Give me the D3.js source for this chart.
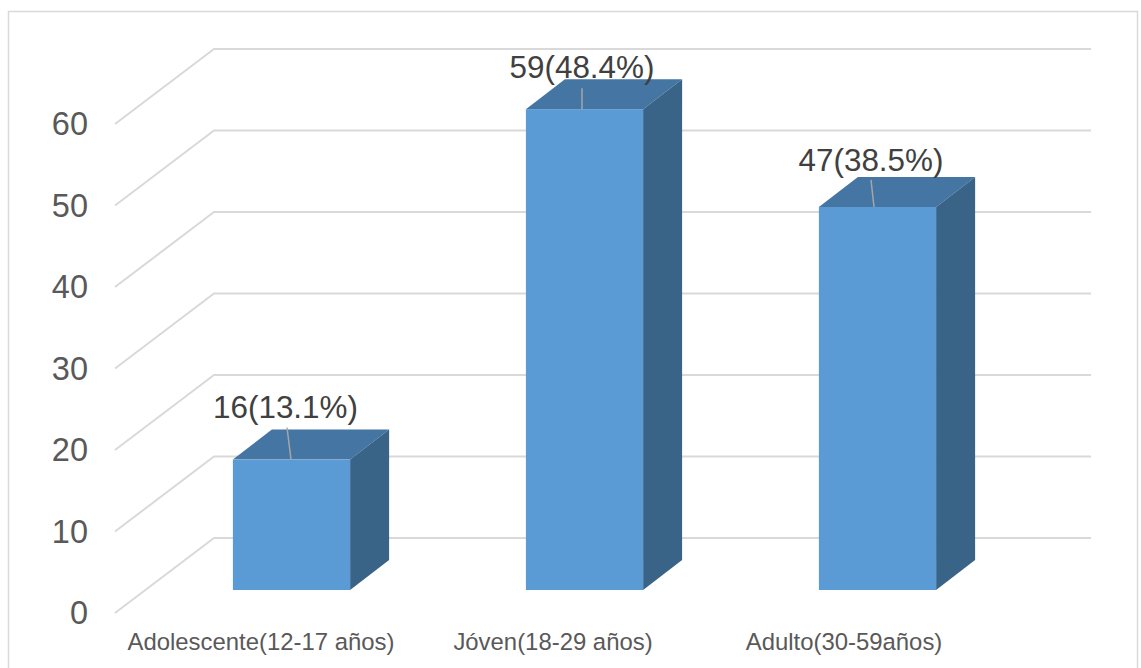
<!DOCTYPE html>
<html><head><meta charset="utf-8">
<style>html,body{margin:0;padding:0;background:#fff}svg{display:block}text{font-family:"Liberation Sans",Arial,sans-serif}</style>
<script src="https://cdn.jsdelivr.net/npm/d3@7/dist/d3.min.js"></script></head>
<body><script>
const categories=["Adolescente(12-17 años)","Jóven(18-29 años)","Adulto(30-59años)"];
const values=[16,59,47];
const dataLabels=["16(13.1%)","59(48.4%)","47(38.5%)"];
const tickValues=[0,10,20,30,40,50,60];
const W=1141,H=668;
const svg=d3.select("body").append("svg").attr("width",W).attr("height",H);
svg.append("rect").attr("x",8.5).attr("y",11.5).attr("width",1129).attr("height",680).attr("fill","#fff").attr("stroke","#d9d9d9").attr("stroke-width",1.5);
const y=d3.scaleLinear().domain([0,60]).range([613,124]);
const depthX=99,depthY=-75,floorX=115,wallEnd=1091;
const x=d3.scaleBand().domain(categories).range([145,1024]).paddingInner(0.6).paddingOuter(0.3);
// gridlines
const g=svg.append("g").attr("fill","none").attr("stroke","#d9d9d9").attr("stroke-width",2);
tickValues.forEach(t=>{
 g.append("path").attr("d",d3.line()([[floorX,y(t)],[floorX+depthX,y(t)+depthY],[wallEnd,y(t)+depthY]]));
});
// tick labels
svg.append("g").selectAll("text").data(tickValues).join("text")
 .attr("x",88).attr("y",d=>y(d)+11).attr("text-anchor","end").attr("font-size",32.5).attr("fill","#595959").text(d=>d);
// bars
const bd=[39,-30],base=y(0)-23;
const barH=v=>y(0)-y(v);
const bars=svg.append("g").selectAll("g").data(categories).join("g");
bars.each(function(c,i){
 const s=d3.select(this),x0=x(c),x1=x0+x.bandwidth(),top=base-barH(values[i]);
 s.append("polygon").attr("fill","#4575a2").attr("points",[[x0,top],[x0+bd[0],top+bd[1]],[x1+bd[0],top+bd[1]],[x1,top]].join(" "));
 s.append("polygon").attr("fill","#396387").attr("points",[[x1,top],[x1+bd[0],top+bd[1]],[x1+bd[0],base+bd[1]],[x1,base]].join(" "));
 s.append("rect").attr("x",x0).attr("y",top).attr("width",x.bandwidth()).attr("height",base-top).attr("fill","#5b9bd5");
});
// leader lines and labels
const leaderTop=[32,21,27],leaderBase=[-0.5,-2.5,-3.5],leaderTip=[-4.5,-2.5,-6.5],labelShift=[-6,-2.5,-6.5],labelUp=[42,31,36];
bars.each(function(c,i){
 const s=d3.select(this),cx=x(c)+x.bandwidth()/2,top=base-barH(values[i]);
 s.append("line").attr("x1",cx+leaderBase[i]).attr("y1",top).attr("x2",cx+leaderTip[i]).attr("y2",top-leaderTop[i]).attr("stroke","#a6a6a6").attr("stroke-width",1.5);
 s.append("text").attr("x",cx+labelShift[i]).attr("y",top-labelUp[i]).attr("text-anchor","middle").attr("font-size",31.4).attr("fill","#404040").text(dataLabels[i]);
});
// category labels
const catX=[261,553,844];
svg.append("g").selectAll("text").data(categories).join("text")
 .attr("x",(d,i)=>catX[i]).attr("y",650).attr("text-anchor","middle").attr("font-size",23.9).attr("fill","#595959").text(d=>d);
</script></body></html>
